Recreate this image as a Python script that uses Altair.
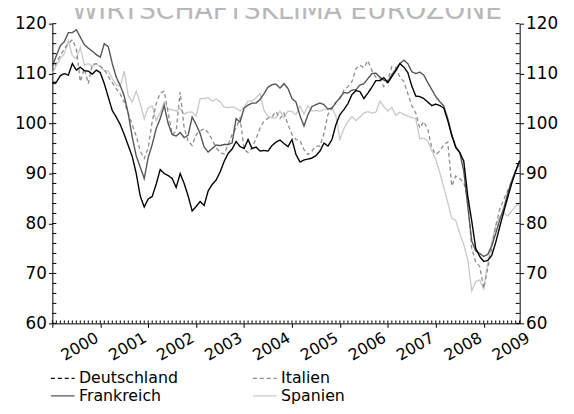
import altair as alt
import pandas as pd

# month index 0 = Jan 2000
months = list(range(118))
year_ticks = [0, 12, 24, 36, 48, 60, 72, 84, 96, 108]
y_labels = [60, 70, 80, 90, 100, 110, 120]
y_minor = list(range(60, 121, 2))

deutschland = [108.2,108.3,109.6,110.0,109.7,112.0,110.7,111.3,110.6,110.5,
    109.9,110.7,110.2,108.0,105.3,102.6,101.3,99.8,97.8,95.6,
    93.4,90.0,85.5,83.3,84.9,85.4,87.9,90.8,90.0,89.6,
    89.0,87.2,90.0,88.0,85.5,82.5,83.4,84.4,83.6,86.5,
    87.8,88.7,90.3,92.4,94.0,94.9,96.4,95.4,95.0,96.8,
    95.0,95.3,94.5,94.6,94.5,95.6,96.3,96.7,96.0,95.4,
    96.8,93.8,92.3,92.7,92.9,93.1,93.6,94.5,96.1,95.5,
    96.8,99.8,101.8,102.8,104.0,105.8,106.6,106.4,105.0,106.1,
    107.3,108.6,108.6,109.2,108.2,109.4,110.6,112.0,111.3,110.2,
    107.5,105.5,105.4,105.0,104.3,103.6,103.9,103.6,103.1,100.6,
    97.6,95.2,94.2,92.5,85.5,80.5,75.0,73.4,72.4,72.6,
    73.6,76.2,79.3,82.3,85.2,88.0,90.4,92.6]

frankreich = [111.5,113.6,115.6,116.4,118.2,118.2,118.8,117.3,115.8,115.1,
    114.5,113.8,113.3,116.0,115.4,112.0,109.3,107.6,105.5,102.0,
    97.3,93.5,91.3,89.0,93.2,95.8,99.0,101.0,103.6,100.0,
    97.8,97.5,98.2,97.2,97.7,101.3,99.8,98.0,95.3,94.3,
    95.0,95.7,95.6,95.8,95.8,96.1,101.0,100.3,103.1,103.7,
    104.1,104.1,104.8,106.0,107.3,107.8,107.9,107.1,108.0,107.0,
    105.0,104.3,101.6,99.5,101.8,103.4,103.8,104.1,103.8,102.9,
    103.1,104.2,105.2,106.2,106.1,106.7,106.8,107.7,108.0,109.0,
    110.0,110.1,109.3,108.7,108.4,109.8,110.9,112.0,112.7,112.0,
    110.4,110.0,110.3,109.7,108.2,106.8,105.4,104.4,103.5,101.0,
    97.8,95.4,94.2,90.5,83.5,76.5,74.5,74.0,73.4,73.8,
    75.5,78.0,80.7,83.0,86.0,88.5,90.6,92.5]

italien = [110.3,112.3,113.6,115.0,116.0,116.8,115.0,108.4,111.0,108.0,
    111.8,112.0,111.5,110.8,109.4,108.2,107.0,105.9,104.3,102.0,
    99.8,97.5,94.5,93.0,95.2,100.4,104.0,106.1,106.5,102.1,
    97.8,98.5,106.3,99.1,96.5,95.6,97.8,98.5,99.0,98.2,
    96.8,95.2,94.2,93.9,95.8,97.8,99.1,101.1,94.8,94.2,
    95.2,97.0,99.1,100.5,101.1,101.4,102.4,101.0,102.1,99.8,
    97.8,96.8,96.6,94.8,93.8,94.5,95.5,95.5,98.0,101.8,
    103.1,104.3,105.0,106.7,107.4,108.4,111.0,111.7,111.2,112.6,
    110.6,109.3,109.0,107.4,108.7,111.4,111.2,109.3,108.4,106.0,
    103.6,102.1,99.1,100.4,98.8,95.2,93.8,94.5,95.8,96.3,
    87.5,89.5,89.0,88.2,85.0,75.0,72.3,71.4,67.0,71.0,
    75.0,79.5,82.8,84.8,86.6,88.5,90.5,92.0]

spanien = [110.0,111.7,113.0,114.0,116.6,113.6,113.0,115.3,111.7,112.0,
    111.5,112.0,111.3,110.6,110.5,109.0,107.7,107.5,110.5,105.6,
    104.3,106.5,104.0,101.0,103.2,103.5,100.6,102.2,104.3,102.9,
    102.8,102.5,103.0,101.9,102.3,102.3,101.5,105.0,105.0,105.2,
    104.5,104.9,104.4,103.3,103.2,103.3,103.1,102.5,103.3,104.5,
    104.5,105.2,106.0,102.6,101.5,101.1,101.2,102.5,101.2,102.5,
    102.4,101.8,103.5,101.9,103.6,102.5,102.6,102.5,102.8,102.8,
    103.1,101.5,96.8,99.0,100.4,101.4,100.6,101.3,102.1,102.4,
    102.1,102.3,104.5,103.4,102.5,103.2,101.6,102.3,101.8,101.5,
    101.2,101.0,96.9,97.1,96.5,94.6,92.8,90.2,87.2,84.2,
    81.0,80.6,78.0,75.8,72.8,66.5,68.4,68.7,66.9,72.0,
    76.2,79.6,81.3,82.2,81.5,82.5,83.5,84.0]

# legend is filled column by column: (Deutschland, Frankreich) | (Italien, Spanien)
series_names = ["Deutschland", "Frankreich", "Italien", "Spanien"]
series_colors = ["#000000", "#555555", "#8c8c8c", "#c8c8c8"]
legend_dashes = [[4, 3], [1, 0], [4, 3], [1, 0]]
title_text = "WIRTSCHAFTSKLIMA EUROZONE"

FONT = "DejaVu Sans"
W, H = 474, 304

values = {"Deutschland": deutschland, "Frankreich": frankreich,
          "Italien": italien, "Spanien": spanien}
rows = []
for name, vals in values.items():
    for m, v in zip(months, vals):
        rows.append({"m": m, "value": v, "series": name})
df = pd.DataFrame(rows)

x_scale = alt.Scale(domain=[0, 117], nice=False, zero=False)
y_scale = alt.Scale(domain=[60, 120], nice=False, zero=False)
color_scale = alt.Scale(domain=series_names, range=series_colors)
dash_scale = alt.Scale(domain=series_names, range=legend_dashes)

legend = alt.Legend(
    title=None, orient="none", legendX=2, legendY=351, columns=2,
    symbolType="M-1.6,0H1.6", symbolSize=225, symbolStrokeWidth=1.3,
    labelFont=FONT, labelFontSize=16, labelColor="#000000",
    labelOffset=8, columnPadding=72, rowPadding=1, labelLimit=300,
)

base = alt.Chart(df)
line_layers = []
for name, width in [("Spanien", 1.3), ("Italien", 1.3), ("Frankreich", 1.4), ("Deutschland", 1.4)]:
    enc = dict(
        x=alt.X("m:Q", scale=x_scale, axis=None),
        y=alt.Y("value:Q", scale=y_scale, axis=None),
        color=alt.Color("series:N", scale=color_scale, legend=legend, sort=series_names),
    )
    if name == "Deutschland":
        enc["strokeDash"] = alt.value([1, 0])
    else:
        enc["strokeDash"] = alt.StrokeDash("series:N", scale=dash_scale, legend=legend,
                                           sort=series_names)
    line_layers.append(
        base.transform_filter(alt.datum.series == name)
        .mark_line(strokeWidth=width)
        .encode(**enc)
    )

axis_common = dict(grid=False, title=None, domainColor="#000000", tickColor="#000000",
                   labelColor="#000000", labelFont=FONT, domainWidth=1, tickWidth=1)

left_axis = alt.Axis(values=y_labels, orient="left", tickSize=4, labelPadding=2,
                     labelFontSize=17, **axis_common)
right_axis = alt.Axis(values=y_labels, orient="right", tickSize=4, labelPadding=2,
                      labelFontSize=17, **axis_common)
x_axis = alt.Axis(values=year_ticks, labelExpr="'' + (2000 + datum.value / 12)",
                  labelAngle=-30, labelAlign="right", labelBaseline="top",
                  labelOffset=41, tickSize=4, labelPadding=2, labelFontSize=16,
                  labelOverlap=False, labelBound=False, labelFlush=False, **axis_common)

ydf = pd.DataFrame({"v": y_minor})
xdf = pd.DataFrame({"m": months})

y_left = alt.Chart(ydf).mark_rule(color="#000000", strokeWidth=1).encode(
    y=alt.Y("v:Q", scale=y_scale, axis=left_axis),
    x=alt.value(0), x2=alt.value(4))
y_right = alt.Chart(ydf).mark_rule(color="#000000", strokeWidth=1).encode(
    y=alt.Y("v:Q", scale=y_scale, axis=right_axis),
    x=alt.value(W - 4), x2=alt.value(W))
x_minor = alt.Chart(xdf).mark_rule(color="#000000", strokeWidth=1).encode(
    x=alt.X("m:Q", scale=x_scale, axis=x_axis),
    y=alt.value(H - 3), y2=alt.value(H))

title = alt.Chart(alt.Data(values=[{"t": title_text}])).mark_text(
    font=FONT, fontSize=27, color="#b8b8b8", align="center", baseline="alphabetic"
).encode(text="t:N", x=alt.value(238), y=alt.value(-5))

chart = alt.layer(*line_layers, y_left, y_right, x_minor, title).resolve_axis(
    x="independent", y="independent"
).properties(
    width=W, height=H,
    autosize=alt.AutoSizeParams(type="none"),
    padding={"left": 45, "top": 13, "right": 47, "bottom": 88},
    background="#ffffff",
).configure_view(stroke=None)

chart.save("out.html", embed_options={"renderer": "svg", "actions": False})
